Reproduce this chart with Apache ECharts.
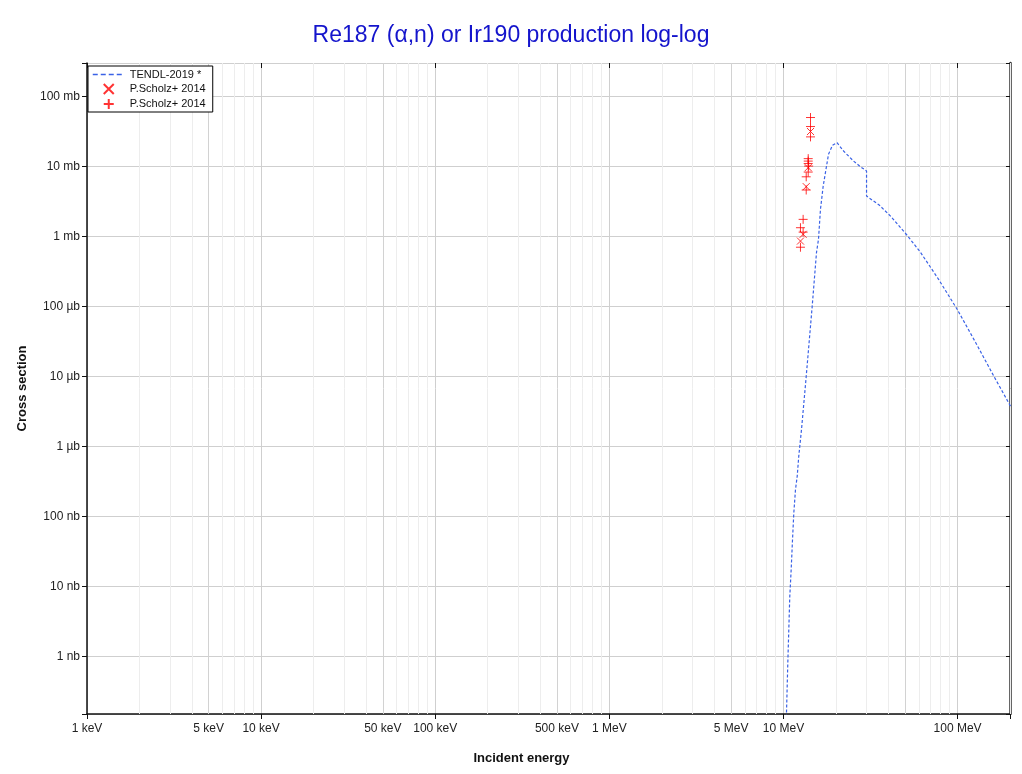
<!DOCTYPE html>
<html>
<head>
<meta charset="utf-8">
<script src="https://cdn.jsdelivr.net/npm/echarts@6/dist/echarts.min.js"></script>
<style>
html,body{margin:0;padding:0;background:#fff;}
#chart{width:1022px;height:774px;}
</style>
</head>
<body>
<div id="chart"></div>
<script>
// Energies in MeV, cross sections in mb
const tendlE = [10.25, 10.40, 10.59, 10.73, 10.87, 11.07, 11.27, 11.47, 11.72, 11.99, 12.24, 12.69, 13.51, 14.62, 15.48, 15.89, 16.31, 16.91, 18.14, 19.12, 20.3, 22.13, 25.26, 27.7, 30.0, 30.0, 35.6, 41.2, 51.4, 61.3, 77.8, 99.6, 126.9, 161.7, 201.6];
const tendlS = [5e-8, 1.45e-7, 8.05e-7, 2.39e-6, 7.15e-6, 1.72e-5, 4.62e-5, 1.13e-4, 2.4e-4, 3.72e-4, 7.2e-4, 1.73e-3, 0.01, 0.1, 0.59, 0.906, 2.43, 5.24, 14.9, 20.0, 21.8, 16.6, 11.9, 9.87, 8.6, 3.77, 2.78, 1.95, 1.03, 0.59, 0.243, 0.0903, 0.0305, 0.01, 3.73e-3];

const scholzXE = [14.3, 13.87, 13.51, 12.97, 12.52];
const scholzXS = [31.5, 9.6, 5.14, 1.07, 0.857];

const scholzPE = [14.3, 14.3, 14.3, 13.87, 13.87, 13.87, 13.95, 13.87, 13.51, 13.51, 12.97, 12.52, 12.97, 12.52];
const scholzPS = [49.9, 37.1, 26.4, 12.9, 11.9, 11.0, 10.1, 8.3, 7.1, 4.6, 1.75, 1.33, 1.15, 0.70];

const xMin = 1e-3, xMax = 200;
const yMin = 1.5e-7, yMax = 300;

const minorLabeled = [0.005, 0.05, 0.5, 5];
const minorLabels = ['5 keV', '50 keV', '500 keV', '5 MeV'];
const decadesX = [1e-3, 1e-2, 1e-1, 1, 10, 100];
const multipliers = [2, 3, 4, 5, 6, 7, 8, 9];

const legendNames = ['TENDL-2019 *', 'P.Scholz+ 2014', 'P.Scholz+ 2014 '];

function zip(a, b) { return a.map((v, i) => [v, b[i]]); }

const minorLines = [];
decadesX.forEach(d => {
  multipliers.forEach(m => {
    const v = d * m;
    if (v > xMax) return;
    const li = minorLabeled.findIndex(x => Math.abs(x - v) / v < 1e-9);
    if (li >= 0) {
      minorLines.push({xAxis: v, name: minorLabels[li],
        lineStyle: {color: '#d2d2d2', width: 1, type: 'solid'},
        label: {show: true, position: 'start', formatter: minorLabels[li], distance: 9,
                color: '#222', fontSize: 12, fontFamily: 'Arial, Liberation Sans, sans-serif'}});
    } else if (m === 5) {
      minorLines.push({xAxis: v, lineStyle: {color: '#d2d2d2', width: 1, type: 'solid'}, label: {show: false}});
    } else {
      minorLines.push({xAxis: v, lineStyle: {color: '#ededed', width: 1, type: 'solid'}, label: {show: false}});
    }
  });
});

function isPow10(v) {
  const l = Math.log10(v);
  return Math.abs(l - Math.round(l)) < 1e-6;
}
function fmtY(v) {
  if (!isPow10(v)) return '';
  const n = Math.round(Math.log10(v));
  if (n >= 0) return Math.pow(10, n) + ' mb';
  if (n >= -3) return Math.pow(10, n + 3) + ' µb';
  return Math.pow(10, n + 6) + ' nb';
}
function fmtX(v) {
  if (!isPow10(v)) return '';
  const n = Math.round(Math.log10(v));
  if (n >= 0) return Math.pow(10, n) + ' MeV';
  return Math.pow(10, n + 3) + ' keV';
}

const FONT = 'Arial, Liberation Sans, sans-serif';
const crossPath = 'path://M0,0L10,10M0,10L10,0';
const plusPath = 'path://M5,0L5,10M0,5L10,5';

const chart = echarts.init(document.getElementById('chart'), null, {renderer: 'canvas'});
chart.setOption({
  animation: false,
  backgroundColor: '#fff',
  title: {
    text: 'Re187 (α,n) or Ir190 production log-log',
    left: 'center', top: 19,
    textStyle: {color: '#1414cc', fontSize: 23, fontWeight: 'normal', fontFamily: FONT}
  },
  grid: {left: 87, right: 12, top: 63, bottom: 60, containLabel: false},
  legend: {
    left: 88, top: 66, orient: 'vertical',
    data: [
      {name: legendNames[0], lineStyle: {type: [5, 3], width: 1.5}},
      legendNames[1],
      legendNames[2]
    ],
    itemWidth: 32, itemHeight: 10, itemGap: 3,
    padding: [3, 4, 2, 4],
    borderColor: '#000', borderWidth: 1, backgroundColor: '#fff',
    textStyle: {fontSize: 11, color: '#111', fontFamily: FONT},
    z: 10
  },
  xAxis: [{
    type: 'log', min: xMin, max: xMax, logBase: 10, splitNumber: 10,
    name: 'Incident energy', nameLocation: 'middle', nameGap: 38,
    nameTextStyle: {fontWeight: 'bold', fontSize: 13, color: '#111', fontFamily: FONT, padding: [0, 54, 0, 0]},
    axisLine: {show: true, lineStyle: {color: '#111', width: 1.5}},
    axisTick: {show: true, inside: false, length: 5, lineStyle: {color: '#111'}},
    axisLabel: {formatter: fmtX, color: '#222', fontSize: 12, margin: 9, fontFamily: FONT},
    splitLine: {show: true, lineStyle: {color: '#cfcfcf', width: 1}}
  }, {
    type: 'log', min: xMin, max: xMax, logBase: 10, splitNumber: 10, position: 'top',
    axisLine: {show: false},
    axisTick: {show: true, inside: true, length: 5, lineStyle: {color: '#111'}},
    axisLabel: {show: false},
    splitLine: {show: false}
  }],
  yAxis: [{
    type: 'log', min: yMin, max: yMax, logBase: 10, splitNumber: 10,
    name: 'Cross section', nameLocation: 'middle', nameGap: 53,
    nameTextStyle: {fontWeight: 'bold', fontSize: 13, color: '#111', fontFamily: FONT},
    axisLine: {show: true, lineStyle: {color: '#111', width: 1.5}},
    axisTick: {show: true, inside: false, length: 5, lineStyle: {color: '#111'}},
    axisLabel: {formatter: fmtY, color: '#222', fontSize: 12, margin: 7, fontFamily: FONT},
    splitLine: {show: true, lineStyle: {color: '#cfcfcf', width: 1}}
  }, {
    type: 'log', min: yMin, max: yMax, logBase: 10, splitNumber: 10, position: 'right',
    axisLine: {show: true, lineStyle: {color: '#333', width: 2.5}},
    axisTick: {show: true, inside: true, length: 4, lineStyle: {color: '#111'}},
    axisLabel: {show: false},
    splitLine: {show: false}
  }],
  series: [{
    name: legendNames[0],
    type: 'line',
    data: zip(tendlE, tendlS),
    showSymbol: false, symbol: 'none',
    lineStyle: {color: '#3a62e6', width: 1.2, type: [3, 2]},
    itemStyle: {color: 'rgba(0,0,0,0)'},
    z: 3,
    markLine: {
      silent: true, symbol: ['none', 'none'], animation: false, precision: 10,
      data: minorLines, z: 1
    }
  }, {
    name: legendNames[1],
    type: 'scatter',
    data: zip(scholzXE, scholzXS),
    symbol: crossPath, symbolSize: 7,
    itemStyle: {color: 'rgba(0,0,0,0)', borderColor: '#ff0000', borderWidth: 1},
    z: 4
  }, {
    name: legendNames[2],
    type: 'scatter',
    data: zip(scholzPE, scholzPS),
    symbol: plusPath, symbolSize: 9,
    itemStyle: {color: 'rgba(0,0,0,0)', borderColor: '#ff0000', borderWidth: 1},
    z: 4
  }]
});
</script>
</body>
</html>
